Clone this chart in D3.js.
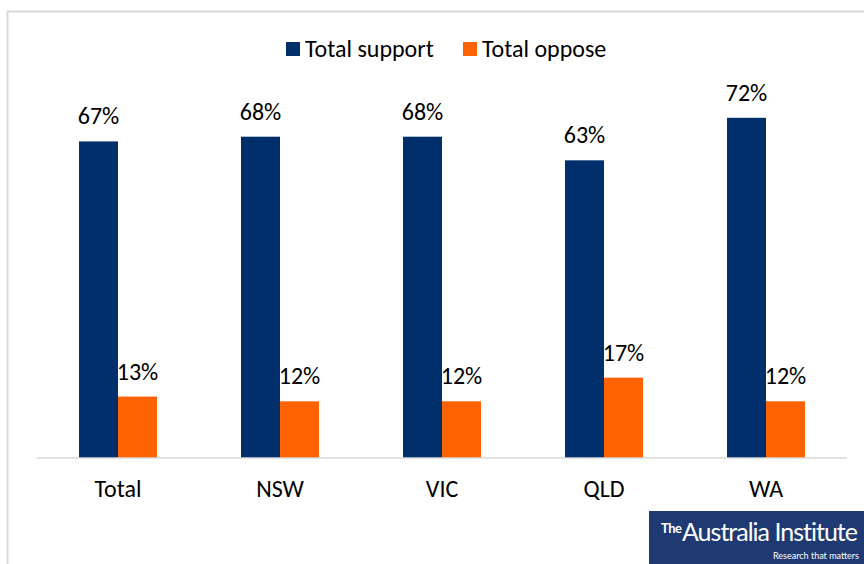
<!DOCTYPE html>
<html>
<head>
<meta charset="utf-8">
<script src="https://cdn.jsdelivr.net/npm/d3@7"></script>
<style>
  body { margin: 0; background: #fff; }
  svg { display: block; font-family: Carlito, Calibri, Lato, "Open Sans", sans-serif; }
</style>
</head>
<body>
<svg id="chart" width="864" height="564"></svg>
<script>
// data
var categories = ["Total", "NSW", "VIC", "QLD", "WA"];
var seriesNames = ["Total support", "Total oppose"];
var supportValues = [67, 68, 68, 63, 72];
var opposeValues = [13, 12, 12, 17, 12];
var colors = ["#002F6C", "#FF6200"];

var svg = d3.select("#chart");

// outer border (cut off at right/bottom like the screenshot)
svg.append("rect")
    .attr("x", 7.5).attr("y", 11.5)
    .attr("width", 900).attr("height", 600)
    .attr("fill", "none")
    .attr("stroke", "#d9d9d9")
    .attr("stroke-width", 2);

var x0 = d3.scaleBand()
    .domain(categories)
    .range([37, 847])
    .paddingInner(0.5185)
    .paddingOuter(0.5185 / 2);

var x1 = d3.scaleBand()
    .domain(seriesNames)
    .range([0, x0.bandwidth()]);

var y = d3.scaleLinear().domain([0, 80]).range([458, 80]);

var table = categories.map((c, i) => ({
    cat: c,
    vals: [
        {name: seriesNames[0], v: supportValues[i]},
        {name: seriesNames[1], v: opposeValues[i]}
    ]
}));

var groups = svg.append("g").selectAll("g")
    .data(table)
    .enter().append("g")
    .attr("transform", d => "translate(" + x0(d.cat) + ",0)");

groups.selectAll("rect")
    .data(d => d.vals)
    .enter().append("rect")
    .attr("x", d => x1(d.name))
    .attr("y", d => y(d.v))
    .attr("width", x1.bandwidth())
    .attr("height", d => y(0) - y(d.v))
    .attr("fill", (d, i) => colors[i]);

groups.selectAll("text.val")
    .data(d => d.vals)
    .enter().append("text")
    .attr("class", "val")
    .attr("x", d => x1(d.name) + x1.bandwidth() / 2)
    .attr("y", d => y(d.v) - 17)
    .attr("text-anchor", "middle")
    .attr("font-size", 24)
    .attr("fill", "#000")
    .text(d => d.v + "%");

// x axis
var xAxis = svg.append("g")
    .attr("transform", "translate(0,458)")
    .call(d3.axisBottom(x0).tickSize(0).tickPadding(22));
xAxis.select(".domain").attr("stroke", "#d9d9d9").attr("stroke-width", 1.5)
    .attr("d", "M37,0H847");
xAxis.selectAll("text")
    .attr("font-size", 24)
    .attr("font-family", "Carlito, Calibri, Lato, sans-serif")
    .attr("fill", "#000");

// legend
var legend = svg.append("g");
var legX = [286, 463];
seriesNames.forEach((s, i) => {
    legend.append("rect")
        .attr("x", legX[i]).attr("y", 42)
        .attr("width", 14).attr("height", 14)
        .attr("fill", colors[i]);
    legend.append("text")
        .attr("x", legX[i] + 19).attr("y", 57)
        .attr("font-size", 24)
        .attr("fill", "#000")
        .text(s);
});

// logo block
var logo = svg.append("g");
logo.append("rect")
    .attr("x", 649).attr("y", 511)
    .attr("width", 230).attr("height", 60)
    .attr("fill", "#1f3a72");
logo.append("text")
    .attr("x", 661).attr("y", 533)
    .attr("font-size", 13)
    .attr("font-weight", "bold")
    .attr("font-family", "Lato, sans-serif")
    .attr("letter-spacing", -0.5)
    .attr("fill", "#fff")
    .text("The");
logo.append("text")
    .attr("x", 682).attr("y", 541)
    .attr("font-size", 25)
    .attr("font-family", "Lato, sans-serif")
    .attr("letter-spacing", -1)
    .attr("fill", "#fff")
    .text("Australia Institute");
logo.append("text")
    .attr("x", 773).attr("y", 559)
    .attr("font-size", 9)
    .attr("font-family", "Lato, sans-serif")
    .attr("fill", "#fff")
    .text("Research that matters");
</script>
</body>
</html>
